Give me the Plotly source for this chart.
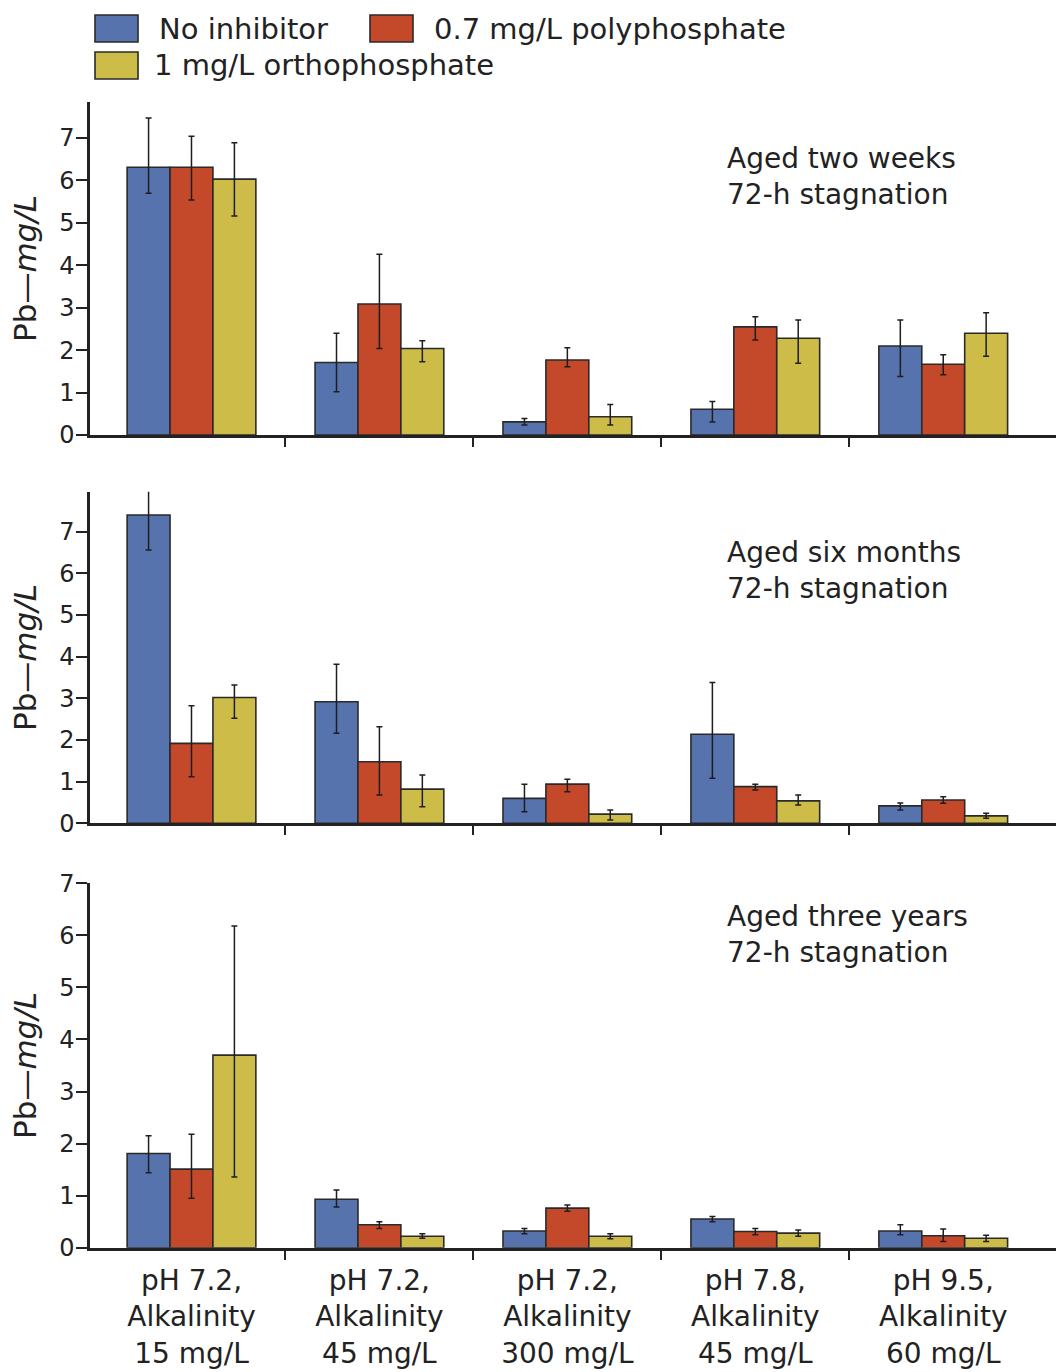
import plotly.graph_objects as go

# ---------------- data ----------------
categories = [
    "pH 7.2,<br>Alkalinity<br>15 mg/L",
    "pH 7.2,<br>Alkalinity<br>45 mg/L",
    "pH 7.2,<br>Alkalinity<br>300 mg/L",
    "pH 7.8,<br>Alkalinity<br>45 mg/L",
    "pH 9.5,<br>Alkalinity<br>60 mg/L",
]
series_names = ["No inhibitor", "0.7 mg/L polyphosphate", "1 mg/L orthophosphate"]
panel_labels = [
    "Aged two weeks<br>72-h stagnation",
    "Aged six months<br>72-h stagnation",
    "Aged three years<br>72-h stagnation",
]
y_tick_values = [0, 1, 2, 3, 4, 5, 6, 7]
group_boundaries = [0.5, 1.5, 2.5, 3.5]

# Aged two weeks
wk2_none = [6.31, 1.71, 0.31, 0.61, 2.10]
wk2_none_hi = [7.47, 2.40, 0.39, 0.79, 2.71]
wk2_none_lo = [5.70, 1.02, 0.24, 0.31, 1.38]
wk2_poly = [6.31, 3.09, 1.77, 2.55, 1.67]
wk2_poly_hi = [7.04, 4.26, 2.06, 2.79, 1.89]
wk2_poly_lo = [5.54, 2.04, 1.61, 2.24, 1.42]
wk2_ortho = [6.03, 2.04, 0.43, 2.28, 2.40]
wk2_ortho_hi = [6.89, 2.22, 0.72, 2.71, 2.88]
wk2_ortho_lo = [5.16, 1.73, 0.24, 1.69, 1.86]

# Aged six months
mo6_none = [7.40, 2.92, 0.60, 2.14, 0.42]
mo6_none_hi = [8.00, 3.82, 0.94, 3.38, 0.49]
mo6_none_lo = [6.56, 2.16, 0.28, 1.08, 0.32]
mo6_poly = [1.92, 1.48, 0.94, 0.88, 0.56]
mo6_poly_hi = [2.82, 2.32, 1.06, 0.94, 0.64]
mo6_poly_lo = [1.12, 0.68, 0.76, 0.80, 0.48]
mo6_ortho = [3.02, 0.82, 0.22, 0.54, 0.18]
mo6_ortho_hi = [3.32, 1.16, 0.32, 0.68, 0.24]
mo6_ortho_lo = [2.52, 0.40, 0.08, 0.44, 0.12]

# Aged three years
yr3_none = [1.81, 0.93, 0.32, 0.55, 0.32]
yr3_none_hi = [2.15, 1.11, 0.37, 0.60, 0.44]
yr3_none_lo = [1.44, 0.78, 0.27, 0.50, 0.25]
yr3_poly = [1.51, 0.44, 0.76, 0.31, 0.23]
yr3_poly_hi = [2.18, 0.50, 0.82, 0.37, 0.36]
yr3_poly_lo = [0.95, 0.37, 0.70, 0.25, 0.12]
yr3_ortho = [3.70, 0.22, 0.22, 0.28, 0.18]
yr3_ortho_hi = [6.18, 0.27, 0.27, 0.34, 0.24]
yr3_ortho_lo = [1.36, 0.18, 0.17, 0.22, 0.12]

panels = [
    [(wk2_none, wk2_none_hi, wk2_none_lo), (wk2_poly, wk2_poly_hi, wk2_poly_lo), (wk2_ortho, wk2_ortho_hi, wk2_ortho_lo)],
    [(mo6_none, mo6_none_hi, mo6_none_lo), (mo6_poly, mo6_poly_hi, mo6_poly_lo), (mo6_ortho, mo6_ortho_hi, mo6_ortho_lo)],
    [(yr3_none, yr3_none_hi, yr3_none_lo), (yr3_poly, yr3_poly_hi, yr3_poly_lo), (yr3_ortho, yr3_ortho_hi, yr3_ortho_lo)],
]

# ---------------- style ----------------
W, H = 1056, 1372
FONT = "DejaVu Sans"
TXT = "#222222"
colors = ["#5673ad", "#c4482a", "#cdbd48"]
y_ranges = [[0, 7.85], [0, 7.96], [0, 7.0]]
y_domains = [[0.6829, 0.9257], [0.3999, 0.6416], [0.0906, 0.3562]]
x_domain = [90 / W, 1.0]
x_range = [-0.54, 4.6]
label_y = [0.8717, 0.5845, 0.3192]

fig = go.Figure()

for p, panel in enumerate(panels):
    xa = "x" if p == 0 else f"x{p + 1}"
    ya = "y" if p == 0 else f"y{p + 1}"
    for s, (vals, hi, lo) in enumerate(panel):
        fig.add_trace(go.Bar(
            x=categories, y=vals, name=series_names[s],
            xaxis=xa, yaxis=ya, showlegend=False,
            marker=dict(color=colors[s], line=dict(color="#2a2a2a", width=1.6)),
            error_y=dict(type="data", symmetric=False,
                         array=[h - v for h, v in zip(hi, vals)],
                         arrayminus=[v - l for v, l in zip(vals, lo)],
                         color="#1e1e1e", thickness=1.5, width=3),
        ))
    # empty trace so the overlay axis holding the between-group ticks is drawn
    fig.add_trace(go.Scatter(x=[], y=[], xaxis=f"x{p + 4}", yaxis=ya,
                             showlegend=False, hoverinfo="skip"))

layout = dict(
    width=W, height=H,
    margin=dict(l=0, r=0, t=0, b=0),
    paper_bgcolor="white", plot_bgcolor="white",
    barmode="group", bargap=0.315, bargroupgap=0.0,
    font=dict(family=FONT, color=TXT, size=22),
    showlegend=False,
)

for p in range(3):
    xk = "xaxis" if p == 0 else f"xaxis{p + 1}"
    yk = "yaxis" if p == 0 else f"yaxis{p + 1}"
    ya = "y" if p == 0 else f"y{p + 1}"
    layout[xk] = dict(
        domain=x_domain, anchor=ya, type="category", range=x_range,
        showline=True, linecolor="#222222", linewidth=2.5,
        ticks="", showticklabels=(p == 2), showgrid=False, zeroline=False,
        tickfont=dict(size=28, color=TXT), automargin=False,
        ticklabelstandoff=6,
    )
    layout[yk] = dict(
        domain=y_domains[p], anchor="x" if p == 0 else f"x{p + 1}",
        range=y_ranges[p], tickvals=y_tick_values,
        showline=True, linecolor="#222222", linewidth=2.5,
        ticks="outside", ticklen=11, tickwidth=2, tickcolor="#222222",
        showgrid=False, zeroline=False, automargin=False,
        tickfont=dict(size=24, color=TXT), ticklabelstandoff=-3,
        title=dict(text="Pb\u2014<i>mg/L</i>", font=dict(size=31, color=TXT), standoff=14),
    )
    # overlay axis carrying the between-group tick marks
    ok = f"xaxis{p + 4}"
    layout[ok] = dict(
        domain=x_domain, anchor=ya, overlaying="x" if p == 0 else f"x{p + 1}",
        range=x_range, tickvals=group_boundaries,
        ticks="outside", ticklen=11, tickwidth=2, tickcolor="#222222",
        showticklabels=False, showline=False, showgrid=False, zeroline=False,
        automargin=False,
    )

annotations = []
for p in range(3):
    annotations.append(dict(
        xref="paper", yref="paper", x=725 / W, y=label_y[p],
        xanchor="left", yanchor="middle", align="left", showarrow=False,
        text=panel_labels[p], font=dict(size=28, color=TXT, family=FONT),
    ))

# custom legend (swatches + labels)
legend_items = [
    (95, 15, 157, 29),
    (370, 15, 432, 29),
    (95, 52, 152, 65),
]
shapes = []
for s, (sx, sy, tx, ty) in enumerate(legend_items):
    shapes.append(dict(
        type="rect", xref="paper", yref="paper",
        x0=sx / W, x1=(sx + 43) / W, y0=1 - (sy + 27) / H, y1=1 - sy / H,
        fillcolor=colors[s], line=dict(color="#2a2a2a", width=1.6),
    ))
    annotations.append(dict(
        xref="paper", yref="paper", x=tx / W, y=1 - ty / H,
        xanchor="left", yanchor="middle", showarrow=False,
        text=series_names[s], font=dict(size=29, color=TXT, family=FONT),
    ))

layout["annotations"] = annotations
layout["shapes"] = shapes
fig.update_layout(**layout)

fig.write_html("out.html")
